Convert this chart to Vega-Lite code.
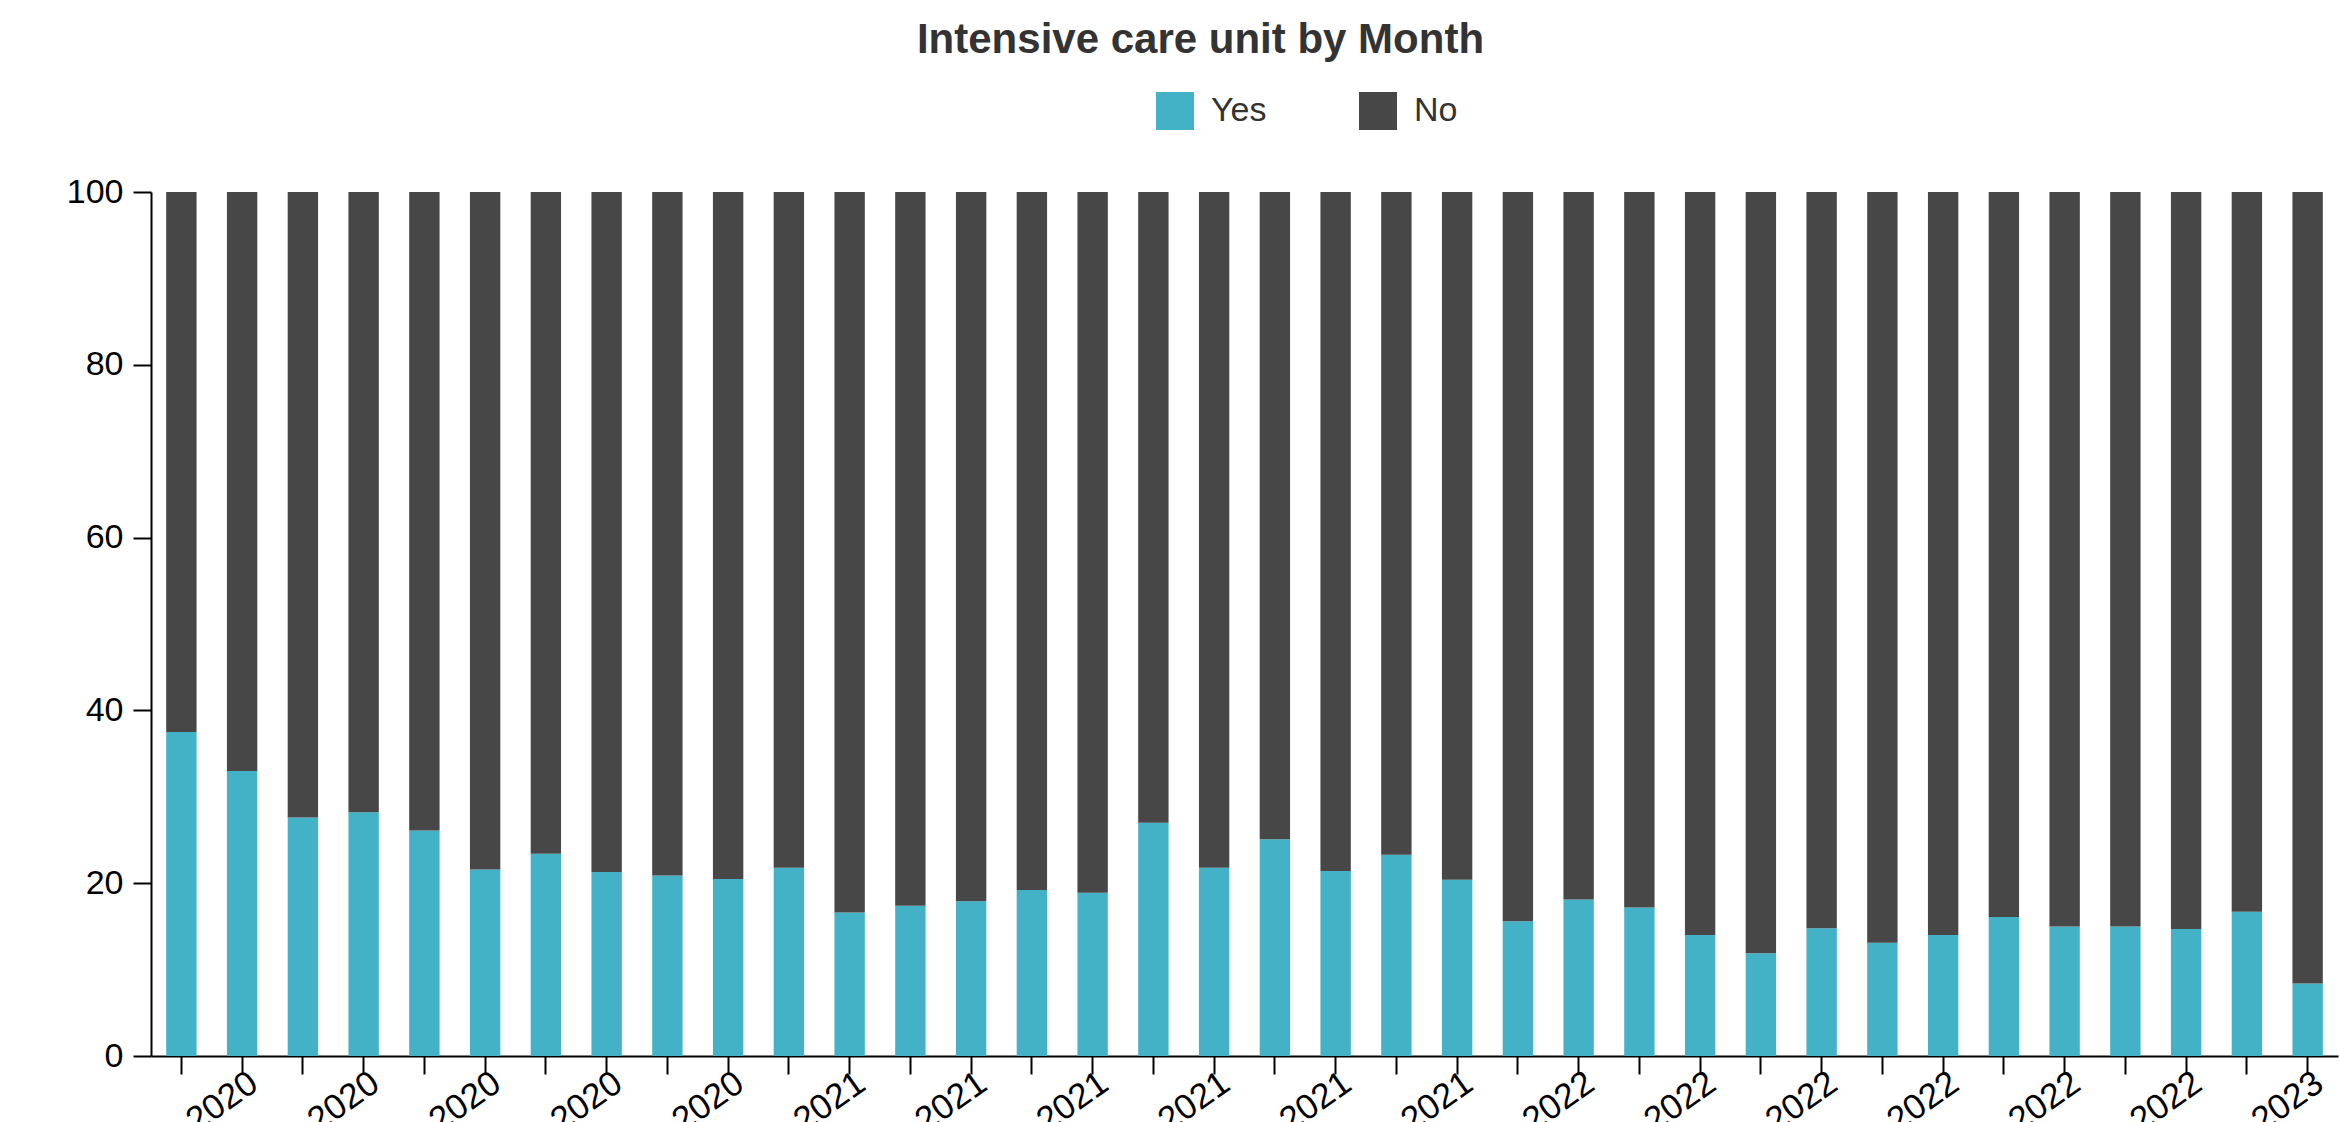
{
  "$schema": "https://vega.github.io/schema/vega-lite/v6.json",
  "width": 2187,
  "height": 864,
  "autosize": {"type": "none"},
  "padding": {"left": 151, "top": 192, "right": 1, "bottom": 66},
  "background": "white",
  "config": {"view": {"stroke": null}, "font": "Liberation Sans"},
  "title": {
    "text": "Intensive care unit by Month",
    "font": "Liberation Sans",
    "fontSize": 42,
    "fontWeight": "bold",
    "color": "#333333",
    "anchor": "middle",
    "dx": -44,
    "offset": 30
  },
  "data": {
    "values": [
      {"month": "Mar 2020", "icu": "Yes", "pct": 37.5}, {"month": "Mar 2020", "icu": "No", "pct": 62.5},
      {"month": "Apr 2020", "icu": "Yes", "pct": 33.0}, {"month": "Apr 2020", "icu": "No", "pct": 67.0},
      {"month": "May 2020", "icu": "Yes", "pct": 27.6}, {"month": "May 2020", "icu": "No", "pct": 72.4},
      {"month": "Jun 2020", "icu": "Yes", "pct": 28.2}, {"month": "Jun 2020", "icu": "No", "pct": 71.8},
      {"month": "Jul 2020", "icu": "Yes", "pct": 26.1}, {"month": "Jul 2020", "icu": "No", "pct": 73.9},
      {"month": "Aug 2020", "icu": "Yes", "pct": 21.6}, {"month": "Aug 2020", "icu": "No", "pct": 78.4},
      {"month": "Sep 2020", "icu": "Yes", "pct": 23.4}, {"month": "Sep 2020", "icu": "No", "pct": 76.6},
      {"month": "Oct 2020", "icu": "Yes", "pct": 21.3}, {"month": "Oct 2020", "icu": "No", "pct": 78.7},
      {"month": "Nov 2020", "icu": "Yes", "pct": 20.9}, {"month": "Nov 2020", "icu": "No", "pct": 79.1},
      {"month": "Dec 2020", "icu": "Yes", "pct": 20.5}, {"month": "Dec 2020", "icu": "No", "pct": 79.5},
      {"month": "Jan 2021", "icu": "Yes", "pct": 21.8}, {"month": "Jan 2021", "icu": "No", "pct": 78.2},
      {"month": "Feb 2021", "icu": "Yes", "pct": 16.6}, {"month": "Feb 2021", "icu": "No", "pct": 83.4},
      {"month": "Mar 2021", "icu": "Yes", "pct": 17.4}, {"month": "Mar 2021", "icu": "No", "pct": 82.6},
      {"month": "Apr 2021", "icu": "Yes", "pct": 17.9}, {"month": "Apr 2021", "icu": "No", "pct": 82.1},
      {"month": "May 2021", "icu": "Yes", "pct": 19.2}, {"month": "May 2021", "icu": "No", "pct": 80.8},
      {"month": "Jun 2021", "icu": "Yes", "pct": 18.9}, {"month": "Jun 2021", "icu": "No", "pct": 81.1},
      {"month": "Jul 2021", "icu": "Yes", "pct": 27.0}, {"month": "Jul 2021", "icu": "No", "pct": 73.0},
      {"month": "Aug 2021", "icu": "Yes", "pct": 21.8}, {"month": "Aug 2021", "icu": "No", "pct": 78.2},
      {"month": "Sep 2021", "icu": "Yes", "pct": 25.1}, {"month": "Sep 2021", "icu": "No", "pct": 74.9},
      {"month": "Oct 2021", "icu": "Yes", "pct": 21.4}, {"month": "Oct 2021", "icu": "No", "pct": 78.6},
      {"month": "Nov 2021", "icu": "Yes", "pct": 23.3}, {"month": "Nov 2021", "icu": "No", "pct": 76.7},
      {"month": "Dec 2021", "icu": "Yes", "pct": 20.4}, {"month": "Dec 2021", "icu": "No", "pct": 79.6},
      {"month": "Jan 2022", "icu": "Yes", "pct": 15.6}, {"month": "Jan 2022", "icu": "No", "pct": 84.4},
      {"month": "Feb 2022", "icu": "Yes", "pct": 18.1}, {"month": "Feb 2022", "icu": "No", "pct": 81.9},
      {"month": "Mar 2022", "icu": "Yes", "pct": 17.2}, {"month": "Mar 2022", "icu": "No", "pct": 82.8},
      {"month": "Apr 2022", "icu": "Yes", "pct": 14.0}, {"month": "Apr 2022", "icu": "No", "pct": 86.0},
      {"month": "May 2022", "icu": "Yes", "pct": 11.9}, {"month": "May 2022", "icu": "No", "pct": 88.1},
      {"month": "Jun 2022", "icu": "Yes", "pct": 14.8}, {"month": "Jun 2022", "icu": "No", "pct": 85.2},
      {"month": "Jul 2022", "icu": "Yes", "pct": 13.1}, {"month": "Jul 2022", "icu": "No", "pct": 86.9},
      {"month": "Aug 2022", "icu": "Yes", "pct": 14.0}, {"month": "Aug 2022", "icu": "No", "pct": 86.0},
      {"month": "Sep 2022", "icu": "Yes", "pct": 16.1}, {"month": "Sep 2022", "icu": "No", "pct": 83.9},
      {"month": "Oct 2022", "icu": "Yes", "pct": 15.0}, {"month": "Oct 2022", "icu": "No", "pct": 85.0},
      {"month": "Nov 2022", "icu": "Yes", "pct": 15.0}, {"month": "Nov 2022", "icu": "No", "pct": 85.0},
      {"month": "Dec 2022", "icu": "Yes", "pct": 14.7}, {"month": "Dec 2022", "icu": "No", "pct": 85.3},
      {"month": "Jan 2023", "icu": "Yes", "pct": 16.7}, {"month": "Jan 2023", "icu": "No", "pct": 83.3},
      {"month": "Feb 2023", "icu": "Yes", "pct": 8.4}, {"month": "Feb 2023", "icu": "No", "pct": 91.6}
    ]
  },
  "mark": {"type": "bar"},
  "encoding": {
    "x": {
      "field": "month",
      "type": "nominal",
      "sort": null,
      "scale": {"paddingInner": 0.5, "paddingOuter": 0.25},
      "axis": {
        "title": null,
        "domainColor": "#000000",
        "domainWidth": 2,
        "tickColor": "#000000",
        "tickWidth": 2,
        "tickSize": 18,
        "labelAngle": -35,
        "labelFont": "Liberation Sans",
        "labelFontSize": 35,
        "labelColor": "#000000",
        "labelPadding": -9,
        "labelOffset": 2,
        "labelOverlap": false,
        "labelBound": false,
        "labelExpr": "indexof(['Feb','Apr','Jun','Aug','Oct','Dec'], slice(datum.value, 0, 3)) >= 0 ? datum.value : ''"
      }
    },
    "y": {
      "field": "pct",
      "type": "quantitative",
      "stack": "zero",
      "scale": {"domain": [0, 100], "nice": false},
      "axis": {
        "title": null,
        "values": [0, 20, 40, 60, 80, 100],
        "grid": false,
        "domainColor": "#000000",
        "domainWidth": 2,
        "tickColor": "#000000",
        "tickWidth": 2,
        "tickSize": 18,
        "labelFont": "Liberation Sans",
        "labelFontSize": 34,
        "labelColor": "#000000",
        "labelPadding": 10
      }
    },
    "color": {
      "field": "icu",
      "type": "nominal",
      "scale": {"domain": ["Yes", "No"], "range": ["#43b2c6", "#474747"]},
      "legend": {
        "title": null,
        "orient": "none",
        "legendX": 1005,
        "legendY": -100,
        "direction": "horizontal",
        "symbolType": "square",
        "symbolSize": 1444,
        "symbolStrokeWidth": 0,
        "labelFont": "Liberation Sans",
        "labelFontSize": 34,
        "labelColor": "#333333",
        "labelOffset": 17,
        "columnPadding": 92,
        "padding": 0
      }
    },
    "order": {"field": "icu", "sort": "descending"}
  }
}
